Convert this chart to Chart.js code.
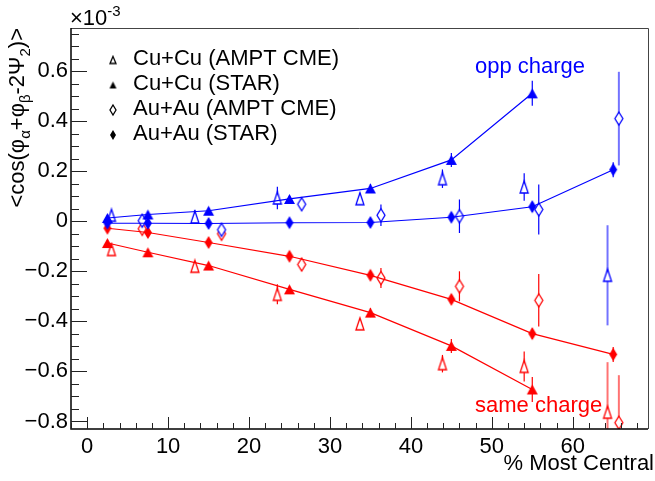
<!DOCTYPE html>
<html>
<head>
<meta charset="UTF-8">
<title>cos correlator vs centrality</title>
<script src="https://cdn.jsdelivr.net/npm/chart.js"></script>
<style>
  body { margin: 0; background: #fff; }
  #wrap { width: 655px; height: 481px; }
</style>
</head>
<body>
<div id="wrap"><canvas id="chart" width="655" height="481"></canvas></div>
<script>
// centrality (% most central)
const starCent = [2.5, 7.5, 15, 25, 35, 45, 55, 65];
const cuAmptCent = [3.0, 13.3, 23.5, 33.7, 43.9, 54.0, 64.3];
const auAmptCent = [6.8, 16.6, 26.5, 36.3, 46.0, 55.8, 65.7];

// <cos(phi_a + phi_b - 2 Psi_2)> in units of 1e-3
const cuStarOpp = [0.013, 0.027, 0.042, 0.089, 0.131, 0.245, 0.511];
const cuStarOppErr = [0.01, 0.01, 0.01, 0.012, 0.018, 0.028, 0.05];
const cuStarSame = [-0.087, -0.124, -0.177, -0.272, -0.365, -0.498, -0.672];
const cuStarSameErr = [0.01, 0.01, 0.01, 0.012, 0.018, 0.028, 0.05];

const auStarOpp = [-0.008, -0.008, -0.009, -0.006, -0.005, 0.016, 0.058, 0.206];
const auStarOppErr = [0.005, 0.005, 0.006, 0.007, 0.01, 0.015, 0.02, 0.03];
const auStarSame = [-0.028, -0.045, -0.085, -0.14, -0.216, -0.312, -0.449, -0.532];
const auStarSameErr = [0.005, 0.005, 0.006, 0.008, 0.01, 0.015, 0.02, 0.03];

const cuAmptOpp = [0.024, 0.017, 0.093, 0.09, 0.17, 0.137, -0.216];
const cuAmptOppErr = [0.01, 0.028, 0.045, 0.024, 0.037, 0.055, 0.2];
const cuAmptSame = [-0.113, -0.18, -0.292, -0.41, -0.569, -0.58, -0.763];
const cuAmptSameErr = [0.01, 0.02, 0.04, 0.015, 0.035, 0.06, 0.2];

const auAmptOpp = [0.002, -0.034, 0.068, 0.024, 0.02, 0.047, 0.41];
const auAmptOppErr = [0.01, 0.015, 0.015, 0.043, 0.067, 0.1, 0.187];
const auAmptSame = [-0.03, -0.05, -0.173, -0.227, -0.26, -0.316, -0.805];
const auAmptSameErr = [0.01, 0.015, 0.015, 0.04, 0.06, 0.105, 0.19];

const xTicks = [0, 10, 20, 30, 40, 50, 60];
const yTicks = [-0.8, -0.6, -0.4, -0.2, 0, 0.2, 0.4, 0.6];
const legendLabels = ['Cu+Cu (AMPT CME)', 'Cu+Cu (STAR)', 'Au+Au (AMPT CME)', 'Au+Au (STAR)'];

const BLUE = '#0000ff', RED = '#ff0000';
const FONT = '"Liberation Sans", Arial, sans-serif';

function pts(xs, ys, es) {
  return ys.map((v, i) => ({ x: xs[i], y: v, err: es[i] }));
}

// small canvases used as point styles (ROOT-like markers)
function marker(shape, color, filled, w, h) {
  const pad = 2;
  const c = document.createElement('canvas');
  c.width = w + pad * 2; c.height = h + pad * 2;
  const g = c.getContext('2d');
  g.translate(pad, pad);
  g.beginPath();
  if (shape === 'tri') {
    g.moveTo(w / 2, 0); g.lineTo(w, h); g.lineTo(0, h);
  } else {
    g.moveTo(w / 2, 0); g.lineTo(w, h / 2); g.lineTo(w / 2, h); g.lineTo(0, h / 2);
  }
  g.closePath();
  if (filled) {
    g.fillStyle = color; g.fill();
  } else {
    g.fillStyle = '#fff'; g.fill();
    g.strokeStyle = color; g.lineWidth = 1.3; g.stroke();
  }
  return c;
}

function ds(label, xs, ys, es, color, style, line, faint) {
  return {
    label: label,
    data: pts(xs, ys, es),
    borderColor: color,
    backgroundColor: color,
    barFaint: faint,
    pointStyle: style,
    pointRadius: 5,
    showLine: line,
    borderWidth: 1.2,
    tension: 0
  };
}

const datasets = [
  ds('Cu+Cu STAR opp', starCent, cuStarOpp, cuStarOppErr, BLUE, marker('tri', BLUE, true, 11, 10), true, 'rgba(0,0,255,0.55)'),
  ds('Cu+Cu STAR same', starCent, cuStarSame, cuStarSameErr, RED, marker('tri', RED, true, 11, 10), true, 'rgba(255,0,0,0.55)'),
  ds('Au+Au STAR opp', starCent, auStarOpp, auStarOppErr, BLUE, marker('dia', BLUE, true, 8, 13), true, 'rgba(0,0,255,0.55)'),
  ds('Au+Au STAR same', starCent, auStarSame, auStarSameErr, RED, marker('dia', RED, true, 8, 13), true, 'rgba(255,0,0,0.55)'),
  ds('Cu+Cu AMPT opp', cuAmptCent, cuAmptOpp, cuAmptOppErr, BLUE, marker('tri', BLUE, false, 8, 12), false, 'rgba(0,0,255,0.55)'),
  ds('Cu+Cu AMPT same', cuAmptCent, cuAmptSame, cuAmptSameErr, RED, marker('tri', RED, false, 8, 12), false, 'rgba(255,0,0,0.55)'),
  ds('Au+Au AMPT opp', auAmptCent, auAmptOpp, auAmptOppErr, BLUE, marker('dia', BLUE, false, 8, 13), false, 'rgba(0,0,255,0.55)'),
  ds('Au+Au AMPT same', auAmptCent, auAmptSame, auAmptSameErr, RED, marker('dia', RED, false, 8, 13), false, 'rgba(255,0,0,0.55)')
];

const errorBars = {
  id: 'errorBars',
  beforeDatasetsDraw(chart) {
    const { ctx, chartArea: a, scales: { x, y } } = chart;
    ctx.save();
    ctx.beginPath();
    ctx.rect(a.left, a.top, a.right - a.left, a.bottom - a.top);
    ctx.clip();
    chart.data.datasets.forEach(d => {
      d.data.forEach(p => {
        const px = x.getPixelForValue(p.x);
        const big = p.err >= 0.15;
        ctx.strokeStyle = big ? d.barFaint : d.borderColor;
        ctx.lineWidth = big ? 2 : 1.2;
        ctx.beginPath();
        ctx.moveTo(px, y.getPixelForValue(p.y - p.err));
        ctx.lineTo(px, y.getPixelForValue(p.y + p.err));
        ctx.stroke();
      });
    });
    ctx.restore();
  }
};

function drawRich(ctx, parts, x, y) {
  // parts: [text, size, dy]
  let cx = x;
  parts.forEach(p => {
    ctx.font = p[1] + 'px ' + FONT;
    ctx.fillText(p[0], cx, y + p[2]);
    cx += ctx.measureText(p[0]).width;
  });
  return cx - x;
}

const frame = {
  id: 'frame',
  afterDraw(chart) {
    const { ctx, chartArea: a, scales: { x, y } } = chart;
    ctx.save();
    // top and right frame
    ctx.strokeStyle = '#444';
    ctx.lineWidth = 1;
    ctx.beginPath();
    ctx.moveTo(a.left, a.top + 0.5); ctx.lineTo(a.right + 0.5, a.top + 0.5); ctx.lineTo(a.right + 0.5, a.bottom);
    ctx.stroke();
    // axes
    ctx.strokeStyle = '#000';
    ctx.lineWidth = 1.5;
    ctx.beginPath();
    ctx.moveTo(a.left, a.top); ctx.lineTo(a.left, a.bottom); ctx.lineTo(a.right, a.bottom);
    ctx.stroke();
    // inward ticks
    ctx.lineWidth = 1;
    ctx.strokeStyle = '#222';
    ctx.beginPath();
    for (let v = -2; v <= 69; v += 2) {
      const px = Math.round(x.getPixelForValue(v)) + 0.5;
      const len = v % 10 === 0 ? 12 : 6;
      ctx.moveTo(px, a.bottom); ctx.lineTo(px, a.bottom - len);
    }
    for (let k = -16; k <= 15; k++) {
      const v = k * 0.05;
      const py = Math.round(y.getPixelForValue(v)) + 0.5;
      if (py < a.top || py > a.bottom) continue;
      const len = k % 4 === 0 ? 16 : 8;
      ctx.moveTo(a.left, py); ctx.lineTo(a.left + len, py);
    }
    ctx.stroke();

    // exponent label
    ctx.fillStyle = '#000';
    ctx.textAlign = 'left';
    ctx.textBaseline = 'alphabetic';
    drawRich(ctx, [['\u00d710', 22, 0], ['-3', 15, -9]], 70, 25);

    // x title
    ctx.font = '22px ' + FONT;
    ctx.textAlign = 'right';
    ctx.fillText('% Most Central', 654, 470);

    // y title (rotated, ending at top of the frame)
    ctx.save();
    ctx.translate(24, 28);
    ctx.rotate(-Math.PI / 2);
    ctx.textAlign = 'left';
    const ytitle = [['<cos(\u03c6', 22, 0], ['\u03b1', 15, 6], ['+\u03c6', 22, 0], ['\u03b2', 15, 6],
                    ['-2\u03a8', 22, 0], ['2', 15, 6], [')>', 22, 0]];
    let w = 0;
    ytitle.forEach(p => { ctx.font = p[1] + 'px ' + FONT; w += ctx.measureText(p[0]).width; });
    drawRich(ctx, ytitle, -w, 0);
    ctx.restore();

    // charge labels
    ctx.textAlign = 'left';
    ctx.font = '22px ' + FONT;
    ctx.fillStyle = BLUE;
    ctx.fillText('opp charge', 475, 73);
    ctx.fillStyle = RED;
    ctx.fillText('same charge', 475, 412);

    // legend
    const legMarks = [marker('tri', '#000', false, 6, 7), marker('tri', '#000', true, 7, 7),
                      marker('dia', '#000', false, 6, 10), marker('dia', '#000', true, 6, 10)];
    const rows = [59, 84, 109, 134];
    ctx.fillStyle = '#000';
    ctx.textBaseline = 'middle';
    legendLabels.forEach((t, i) => {
      const m = legMarks[i];
      ctx.drawImage(m, 113 - m.width / 2, rows[i] + 1 - m.height / 2);
      ctx.fillText(t, 133, rows[i]);
    });
    ctx.restore();
  }
};

new Chart(document.getElementById('chart'), {
  type: 'scatter',
  data: { datasets: datasets },
  options: {
    responsive: false,
    animation: false,
    layout: { padding: { top: 28, right: 7, left: 0, bottom: 0 } },
    plugins: { legend: { display: false }, tooltip: { enabled: false } },
    scales: {
      x: {
        type: 'linear',
        min: -2, max: 69.3,
        afterFit: s => { s.height = 52; },
        afterBuildTicks: s => { s.ticks = xTicks.map(v => ({ value: v })); },
        grid: { display: false, drawTicks: false },
        border: { display: false },
        ticks: { font: { family: FONT, size: 22 }, color: '#000', padding: 5, maxRotation: 0, autoSkip: false }
      },
      y: {
        type: 'linear',
        min: -0.83, max: 0.772,
        afterFit: s => { s.width = 71; },
        afterBuildTicks: s => { s.ticks = yTicks.map(v => ({ value: v })); },
        grid: { display: false, drawTicks: false },
        border: { display: false },
        ticks: {
          font: { family: FONT, size: 22 }, color: '#000', padding: 3, autoSkip: false,
          callback: v => v === 0 ? '0' : (v < 0 ? '\u2212' : '') + Math.abs(v).toFixed(1)
        }
      }
    }
  },
  plugins: [errorBars, frame]
});
</script>
</body>
</html>
